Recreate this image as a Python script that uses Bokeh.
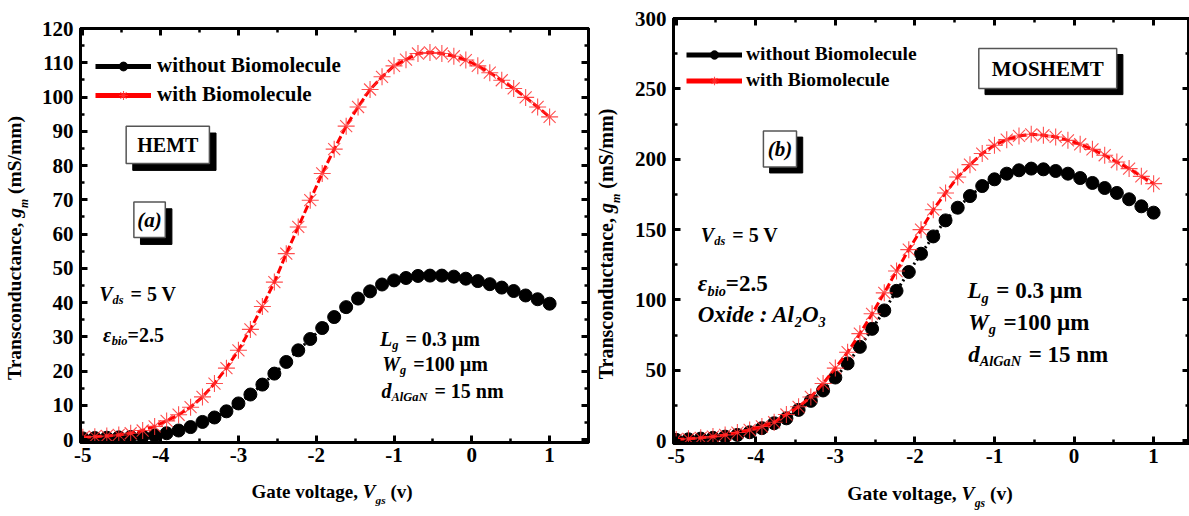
import math
from bokeh.plotting import figure
from bokeh.models import (ColumnDataSource, Label, BoxAnnotation, Legend, LegendItem, Div,
                          LinearAxis, SingleIntervalTicker, CustomJSTickFormatter, Range1d)
from bokeh.layouts import row, column
from bokeh.embed import file_html
from bokeh.resources import INLINE

# ---------------- data ----------------
vgs = [-5.000, -4.846, -4.692, -4.538, -4.385, -4.231, -4.077, -3.923, -3.769, -3.615,
       -3.462, -3.308, -3.154, -3.000, -2.846, -2.692, -2.538, -2.385, -2.231, -2.077,
       -1.923, -1.769, -1.615, -1.462, -1.308, -1.154, -1.000, -0.846, -0.692, -0.538,
       -0.385, -0.231, -0.077, 0.077, 0.231, 0.385, 0.538, 0.692, 0.846, 1.000]

hemt_without = [0.4, 0.5, 0.6, 0.7, 0.8, 1.0, 1.3, 1.9, 2.7, 3.7,
                5.2, 6.5, 8.3, 10.6, 13.2, 16.1, 19.3, 22.7, 26.1, 29.4,
                32.6, 35.8, 38.7, 41.2, 43.3, 45.3, 46.5, 47.2, 47.8, 47.9,
                47.9, 47.6, 47.0, 46.3, 45.4, 44.4, 43.4, 42.1, 41.0, 39.7]
hemt_with = [0.7, 0.9, 1.1, 1.4, 1.9, 2.7, 3.9, 5.5, 7.3, 9.5,
             12.5, 16.4, 20.9, 26.1, 32.2, 38.9, 46.0, 54.3, 62.1, 69.9,
             77.7, 84.8, 91.5, 97.1, 102.2, 105.9, 109.1, 110.9, 112.7, 113.0,
             112.7, 111.9, 110.8, 109.1, 107.1, 104.9, 102.5, 99.9, 97.1, 94.2]

mos_without = [0.5, 0.9, 1.4, 1.9, 2.8, 4.0, 5.9, 8.8, 12.3, 15.8,
               21.8, 28.2, 35.6, 44.8, 54.8, 66.6, 79.4, 92.5, 106.4, 119.8,
               132.8, 145.1, 156.5, 165.5, 173.8, 180.9, 185.7, 189.7, 192.1, 193.3,
               192.8, 191.6, 189.7, 186.6, 183.1, 179.5, 176.0, 171.5, 166.5, 162.0]
mos_with = [0.7, 1.2, 1.9, 2.8, 4.0, 5.7, 7.5, 10.0, 13.0, 18.5,
            24.0, 31.0, 40.5, 51.5, 62.8, 76.0, 90.1, 105.0, 120.5, 135.7,
            149.9, 164.1, 176.0, 187.3, 196.1, 204.0, 209.9, 213.9, 216.5, 217.7,
            217.0, 215.8, 213.4, 210.6, 207.0, 202.8, 198.0, 193.3, 187.8, 182.6]

x_ticks_interval = 1
series_labels = ["without Biomolecule", "with Biomolecule"]
NAN = float("nan")

FONT = "Liberation Serif"

BOLD = {' ': 250, '(': 333, ')': 333, ',': 250, '-': 333, '.': 250, '/': 278, ':': 333, '=': 570,
        'A': 722, 'B': 667, 'E': 667, 'G': 778, 'H': 778, 'L': 667, 'M': 944, 'N': 722, 'O': 778,
        'S': 556, 'T': 667, 'V': 722, 'W': 1000, 'a': 500, 'b': 556, 'c': 444, 'd': 556, 'e': 444,
        'g': 500, 'h': 556, 'i': 278, 'l': 278, 'm': 833, 'n': 556, 'o': 500, 'r': 444, 's': 389,
        't': 333, 'u': 556, 'v': 500, 'w': 722, 'x': 500, '\u00b5': 556}
BOLDIT = {' ': 250, '(': 333, ')': 333, ':': 333, 'A': 667, 'G': 722, 'L': 611, 'N': 722, 'O': 722,
          'V': 667, 'W': 889, 'a': 500, 'b': 500, 'd': 500, 'e': 444, 'g': 500, 'i': 278, 'l': 278,
          'm': 778, 'o': 500, 's': 389, 'x': 500, '\u03b5': 430}


def tw(s, style, size):
    table = BOLD if style == "bold" else BOLDIT
    return sum(table.get(ch, 500) for ch in s) * size / 1000.0


def rich(p, x, y, parts, size):
    """Text made of pieces (bold / bold-italic / subscript) placed along one baseline."""
    adv = 0.0
    base = 0.33 * size
    for t, kind in parts:
        fs = size * 0.62 if kind == "s" else size
        style = "bold" if kind == "b" else "bold italic"
        lead = len(t) - len(t.lstrip(" "))
        adv += tw(" " * lead, style, fs) + (2 if lead else 0)
        body = t.lstrip(" ")
        drop = base + (0.3 * size if kind == "s" else 0.0)
        p.add_layout(Label(x=x, y=y, x_offset=adv, y_offset=-drop, text=body,
                           text_font=FONT, text_font_size=f"{fs:.1f}px", text_font_style=style,
                           text_color="black", text_baseline="alphabetic", text_align="left"))
        adv += tw(body, style, fs)


def boxed(p, x0, x1, y0, y1, dx, dy, text, size, style):
    p.add_layout(BoxAnnotation(left=x0 + dx, right=x1 + dx, bottom=y0 - dy, top=y1 - dy,
                               fill_color="black", fill_alpha=1, line_color="black", line_alpha=1,
                               line_width=1))
    p.add_layout(BoxAnnotation(left=x0, right=x1, bottom=y0, top=y1,
                               fill_color="white", fill_alpha=1, line_color="#555555", line_alpha=1,
                               line_width=1.5))
    p.add_layout(Label(x=(x0 + x1) / 2, y=(y0 + y1) / 2, text=text, text_font=FONT,
                       text_font_size=f"{size}px", text_font_style=style, text_color="black",
                       text_align="center", text_baseline="middle"))


LABEL_CSS = ("position:absolute;white-space:nowrap;font-family:'Liberation Serif';"
             "font-weight:bold;color:#000;line-height:1;")
SUB_CSS = "font-size:0.6em;vertical-align:-0.55em;font-style:italic;"


def ylabel_div(width, height, cx, cy, size):
    html = (f'<div style="position:relative;width:{width}px;height:{height}px;">'
            f'<div style="{LABEL_CSS}font-size:{size}px;left:{cx}px;top:{cy}px;'
            f'transform:translate(-50%,-50%) rotate(-90deg);">'
            f'Transconductance, <i>g</i><span style="{SUB_CSS}">m</span> (mS/mm)</div></div>')
    return Div(text=html, width=width, height=height, margin=0)


def xlabel_div(width, height, cx, cy, size):
    html = (f'<div style="position:relative;width:{width}px;height:{height}px;">'
            f'<div style="{LABEL_CSS}font-size:{size}px;left:{cx}px;top:{cy}px;'
            f'transform:translate(-50%,-50%);">'
            f'Gate voltage, <i>V</i><span style="{SUB_CSS}">gs</span> (v)</div></div>')
    return Div(text=html, width=width, height=height, margin=0)


def make_fig(width, height, bl, br, bt, bb, xr, yr, yint):
    p = figure(width=width, height=height, x_range=Range1d(*xr), y_range=Range1d(*yr),
               output_backend="svg", toolbar_location=None,
               min_border_left=bl, min_border_right=br, min_border_top=bt, min_border_bottom=bb,
               background_fill_color="white", border_fill_color="white")
    p.grid.visible = False
    p.outline_line_color = "black"
    p.outline_line_width = 3
    p.xaxis.ticker = SingleIntervalTicker(interval=x_ticks_interval, num_minor_ticks=2)
    p.xaxis.formatter = CustomJSTickFormatter(code="return tick.toFixed(0)")
    p.yaxis.ticker = SingleIntervalTicker(interval=yint, num_minor_ticks=2)
    top = LinearAxis(ticker=SingleIntervalTicker(interval=x_ticks_interval, num_minor_ticks=2),
                     formatter=CustomJSTickFormatter(code="return ''"))
    right = LinearAxis(ticker=SingleIntervalTicker(interval=yint, num_minor_ticks=2),
                       formatter=CustomJSTickFormatter(code="return ''"))
    p.add_layout(top, "above")
    p.add_layout(right, "right")
    for ax in p.axis:
        ax.axis_line_width = 3
        ax.axis_line_color = "black"
        ax.major_tick_in = 7
        ax.major_tick_out = 0
        ax.major_tick_line_width = 3
        ax.minor_tick_in = 4
        ax.minor_tick_out = 0
        ax.minor_tick_line_width = 2.5
        ax.major_label_text_font = FONT
        ax.major_label_text_font_style = "bold"
        ax.major_label_text_font_size = "21px"
        ax.major_label_text_color = "black"
    top.major_label_text_font_size = "0px"
    top.major_label_standoff = 0
    right.major_label_text_font_size = "0px"
    right.major_label_standoff = 0
    p.xaxis[0].major_label_standoff = 9
    p.yaxis[0].major_label_standoff = 7
    return p


def add_series(p, y_without, y_with, legend_loc, leg_font, glyph_h, spacing, standoff):
    src = ColumnDataSource(dict(x=vgs, a=y_without, b=y_with))
    p.line("x", "a", source=src, line_color="black", line_width=3, line_dash="2 3")
    sk = p.scatter("x", "a", source=src, marker="circle", size=13, fill_color="black",
                   line_color="black")
    p.line("x", "b", source=src, line_color="red", line_width=3, line_dash="8 3")
    sr = p.scatter("x", "b", source=src, marker="asterisk", size=17, line_color="#ff3030",
                   line_width=1.1, line_alpha=0.85)
    proxy = ColumnDataSource(dict(x=[NAN, NAN], y=[NAN, NAN]))
    lk = p.line("x", "y", source=proxy, line_color="black", line_width=5)
    lr = p.line("x", "y", source=proxy, line_color="red", line_width=5)
    legend = Legend(items=[LegendItem(label=series_labels[0], renderers=[lk, sk]),
                           LegendItem(label=series_labels[1], renderers=[lr, sr])],
                    location=legend_loc, margin=0, padding=0, spacing=spacing,
                    glyph_width=56, glyph_height=glyph_h, label_height=glyph_h,
                    label_standoff=standoff, border_line_alpha=0, background_fill_alpha=0,
                    label_text_font=FONT, label_text_font_style="bold",
                    label_text_font_size=leg_font, label_text_color="black")
    p.add_layout(legend)


# ---------------- panel (a) ----------------
p1 = make_fig(562, 478, 46, 8, 28, 36, (-5.03, 1.50), (-0.8, 120), 10)
add_series(p1, hemt_without, hemt_with, (15, 335), "21px", 22, 4, 6)
boxed(p1, -4.443, -3.373, 80.6, 91.5, 0.085, 2.0, "HEMT", 20, "bold")
boxed(p1, -4.344, -3.94, 59.0, 69.4, 0.085, 2.0, "(a)", 21, "bold italic")
rich(p1, -4.79, 44.4, [("V", "i"), ("ds", "s"), (" = 5 V", "b")], 20)
rich(p1, -4.74, 32.4, [("\u03b5", "i"), ("bio", "s"), ("=2.5", "b")], 20)
rich(p1, -1.18, 31.4, [("L", "i"), ("g", "s"), (" = 0.3 \u00b5m", "b")], 20)
rich(p1, -1.15, 23.9, [("W", "i"), ("g", "s"), (" =100 \u00b5m", "b")], 20)
rich(p1, -1.16, 16.2, [("d", "i"), ("AlGaN", "s"), (" = 15 nm", "b")], 20)

# ---------------- panel (b) ----------------
p2 = make_fig(559, 478, 43, 0, 18, 35, (-5.034, 1.451), (-2.1, 300), 50)
add_series(p2, mos_without, mos_with, (13, 352), "19.5px", 21, 4, 4)
boxed(p2, -1.197, 0.536, 250.2, 278.7, 0.078, 4.3, "MOSHEMT", 21, "bold")
boxed(p2, -3.904, -3.488, 194.5, 220.0, 0.078, 4.3, "(b)", 21, "bold italic")
rich(p2, -4.69, 150.6, [("V", "i"), ("ds", "s"), (" = 5 V", "b")], 20)
rich(p2, -4.73, 116.7, [("\u03b5", "i"), ("bio", "s"), ("=2.5", "b")], 23)
rich(p2, -4.73, 94.9, [("Oxide : Al", "i"), ("2", "s"), ("O", "i"), ("3", "s")], 23)
rich(p2, -1.34, 111.9, [("L", "i"), ("g", "s"), (" = 0.3 \u00b5m", "b")], 23)
rich(p2, -1.33, 89.6, [("W", "i"), ("g", "s"), (" =100 \u00b5m", "b")], 23)
rich(p2, -1.33, 66.9, [("d", "i"), ("AlGaN", "s"), (" = 15 nm", "b")], 23)

# ---------------- axis titles (rich text with subscripts) ----------------
yl1 = ylabel_div(34, 516, 18, 248, 19.5)
xl1 = xlabel_div(562, 38, 298, 16, 19)
yl2 = ylabel_div(34, 516, 13, 244, 20)
xl2 = xlabel_div(559, 38, 300, 19, 19.5)

layout = row(yl1, column(p1, xl1), yl2, column(p2, xl2))
open("out.html", "w").write(file_html(layout, INLINE))
